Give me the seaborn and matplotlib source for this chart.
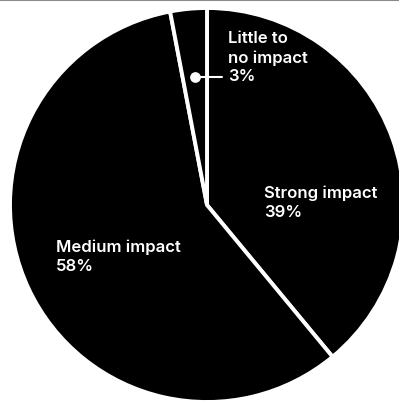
import matplotlib
matplotlib.use("Agg")
import matplotlib.pyplot as plt
import seaborn as sns
from matplotlib.lines import Line2D

sns.set_theme(style="white")
plt.rcParams['font.family'] = ['Inter', 'DejaVu Sans']

categories = ["Strong impact", "Medium impact", "Little to\nno impact"]
values = [39, 58, 3]
pct_labels = ["39%", "58%", "3%"]

W, H = 399, 402
fig = plt.figure(figsize=(W / 100, H / 100), dpi=100)
ax = fig.add_axes([0, 0, 1, 1])

cx, cy, r = 207, H - 206, 197
ax.pie(values, center=(cx, cy), radius=r, startangle=90, counterclock=False,
       colors=["black"] * len(values),
       wedgeprops=dict(edgecolor="white", linewidth=2.8), frame=True)
ax.set_xlim(0, W)
ax.set_ylim(0, H)
ax.axis("off")

txt = dict(color="white", fontsize=12, fontweight="semibold", ha="left", va="top",
           linespacing=1.32)
label_pos = [(264, 186), (56, 240), (228, 31)]
for cat, pct, (x, y) in zip(categories, pct_labels, label_pos):
    ax.text(x, H - y, f"{cat}\n{pct}", **txt)

# leader for small slice
ax.plot([195, 222], [H - 78, H - 78], color="white", lw=1.5)
ax.scatter([195], [H - 78], s=45, color="white", zorder=5)

fig.add_artist(Line2D([0, 1], [1 - 1 / H, 1 - 1 / H], transform=fig.transFigure,
                      color="#8a8a8a", lw=1.5))

fig.savefig("out.png", dpi=100)
